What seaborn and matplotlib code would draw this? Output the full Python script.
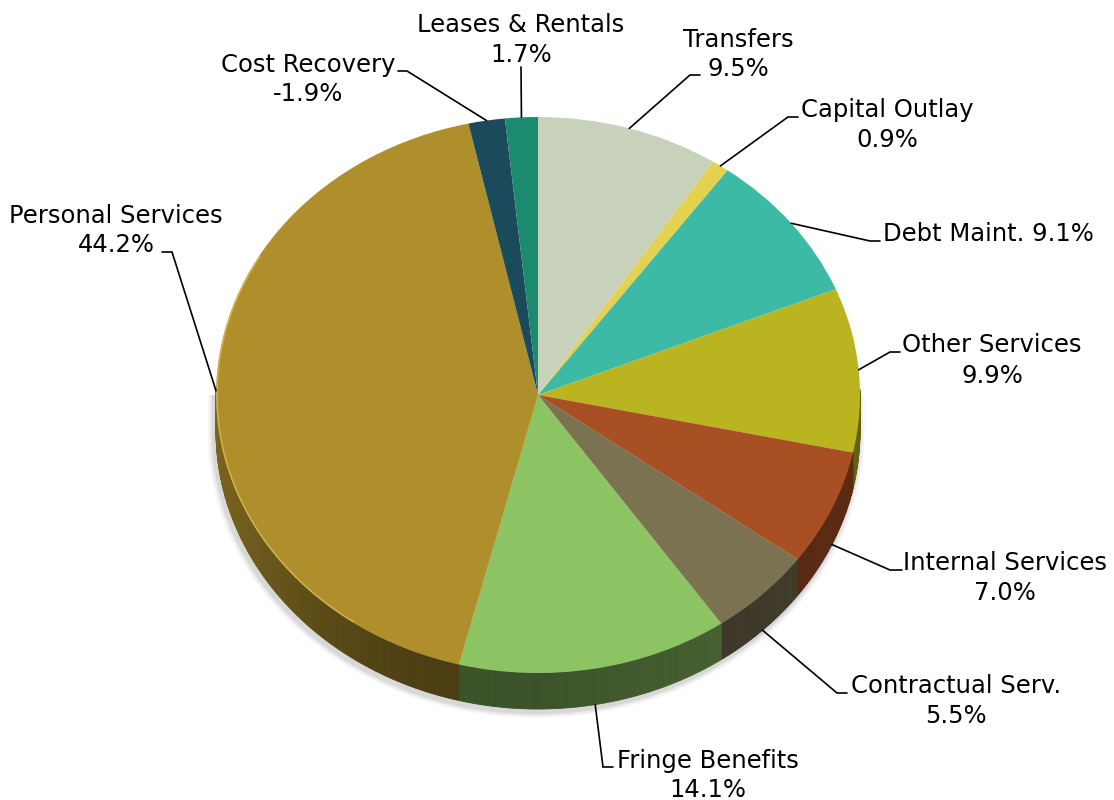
import numpy as np
import matplotlib
matplotlib.use("Agg")
import matplotlib.pyplot as plt
import seaborn as sns
from matplotlib.collections import PolyCollection
from matplotlib.colors import to_rgb

# ---- data ---------------------------------------------------------------
categories = ["Transfers", "Capital Outlay", "Debt Maint.", "Other Services",
              "Internal Services", "Contractual Serv.", "Fringe Benefits",
              "Personal Services", "Cost Recovery", "Leases & Rentals"]
shares = [9.5, 0.9, 9.1, 9.9, 7.0, 5.5, 14.1, 44.2, -1.9, 1.7]
slice_colors = ["#C8D1BA", "#E3D24F", "#3DBAA5", "#BAB421", "#A94F24",
                "#7B7252", "#8DC463", "#AE8F2B", "#1B4B5B", "#1C8A6E"]

# ---- layout (pixels) ------------------------------------------------------
W, H = 1114, 800
CX, CY = 538, 395          # pie centre
RX, RY = 322, 278          # ellipse radii of the top face
DEPTH = 36                 # thickness of the disc

# text: (centre x, baseline of first line, baseline of second line)
label_pos = [(738, 47, 76), (887, 117, 147), (883, 241, None), (992, 352, 383),
             (1005, 570, 600), (956, 693, 723), (708, 768, 797),
             (116, 223, 252), (308, 72, 101), (521, 32, 62)]
# leader elbows and horizontal ends
elbows = [(690, 75), (788, 117), (870, 241), (890, 352), (890, 570),
          (837, 693), (603, 767), (172, 252), (407, 71), (521, 67)]
ends = [(700, 75), (798, 117), (880, 241), (900, 352), (902, 570),
        (847, 693), (613, 767), (162, 252), (398, 71), (521, 67)]

sns.set_theme(style="white")
plt.rcParams["font.family"] = ["DejaVu Sans"]
FS = 17.5

fig = plt.figure(figsize=(W / 100, H / 100), dpi=100)
ax = fig.add_axes([0, 0, 1, 1])
D = DEPTH / RY


def px(x, y):
    return (x - CX) / RX, (CY - y) / RY


# soft shadow hugging the lower rim of the disc
tt = np.linspace(np.pi, 2 * np.pi, 300)
for grow, alpha in [(0.020, 0.05), (0.013, 0.08), (0.007, 0.11)]:
    xs = (1 + grow) * np.cos(tt) - 0.006
    ys = (1 + grow) * np.sin(tt) - D - 0.012
    xs = np.concatenate([xs, [xs[-1], xs[0]]])
    ys = np.concatenate([ys, [0.0, 0.0]])
    ax.fill(xs, ys, color="#555555", alpha=alpha, lw=0, zorder=1)

wedges, _ = ax.pie(np.abs(shares), colors=slice_colors, startangle=90,
                   counterclock=False, radius=1, center=(0, 0),
                   wedgeprops=dict(linewidth=0), frame=False)
for w in wedges:
    w.set_zorder(5)


def shade(tdeg):
    c = np.cos(np.radians(tdeg))
    return 0.42 + 0.28 * max(0.0, -c) ** 2.5 + 0.12 * max(0.0, c)


# side wall of the disc, built from each wedge's angular span
for w, col in zip(wedges, slice_colors):
    t1, t2 = sorted((w.theta1, w.theta2))
    n = max(2, int((t2 - t1) / 0.5))
    ts = np.linspace(t1, t2, n + 1)
    polys, fcs = [], []
    base = np.array(to_rgb(col))
    for a, b in zip(ts[:-1], ts[1:]):
        m = (a + b) / 2
        if np.sin(np.radians(m)) > 0.02:
            continue
        ra, rb = np.radians(a), np.radians(b)
        polys.append([(np.cos(ra), np.sin(ra)), (np.cos(rb), np.sin(rb)),
                      (np.cos(rb), np.sin(rb) - D), (np.cos(ra), np.sin(ra) - D)])
        fcs.append(np.clip(base * shade(m), 0, 1))
    if polys:
        ax.add_collection(PolyCollection(polys, facecolors=fcs, edgecolors=fcs,
                                         linewidths=0.6, zorder=3))

# light rim along the left edge of the top face
ang = np.radians(np.linspace(150, 235, 120))
ax.plot(np.cos(ang) * 0.997, np.sin(ang) * 0.997, color="#E2C45A", lw=1.0,
        alpha=0.7, zorder=6, solid_capstyle="round")

# labels with leader lines
for i, (w, name, val) in enumerate(zip(wedges, categories, shares)):
    mid = np.radians((w.theta1 + w.theta2) / 2)
    axp, ayp = np.cos(mid), np.sin(mid)
    if ayp < 0:
        ayp -= D
    ex, ey = px(*elbows[i])
    hx, hy = px(*ends[i])
    ax.plot([axp, ex, hx], [ayp, ey, hy], color="black", lw=1.2, zorder=7,
            solid_joinstyle="miter")
    cx, b1, b2 = label_pos[i]
    pct = f"{val:.1f}%"
    if b2 is None:
        x0, y0 = px(cx, b1)
        ax.text(x0, y0, f"{name} {pct}", ha="left", va="baseline",
                fontsize=FS, color="black", zorder=8)
    else:
        x0, y0 = px(cx, b1)
        ax.text(x0, y0, name, ha="center", va="baseline", fontsize=FS,
                color="black", zorder=8)
        x1, y1 = px(cx, b2)
        ax.text(x1, y1, pct, ha="center", va="baseline", fontsize=FS,
                color="black", zorder=8)

ax.set_aspect("auto")
ax.set_xlim(px(0, 0)[0], px(W, 0)[0])
ax.set_ylim(px(0, H)[1], px(0, 0)[1])
ax.axis("off")

fig.savefig("out.png", dpi=100, facecolor="white")
